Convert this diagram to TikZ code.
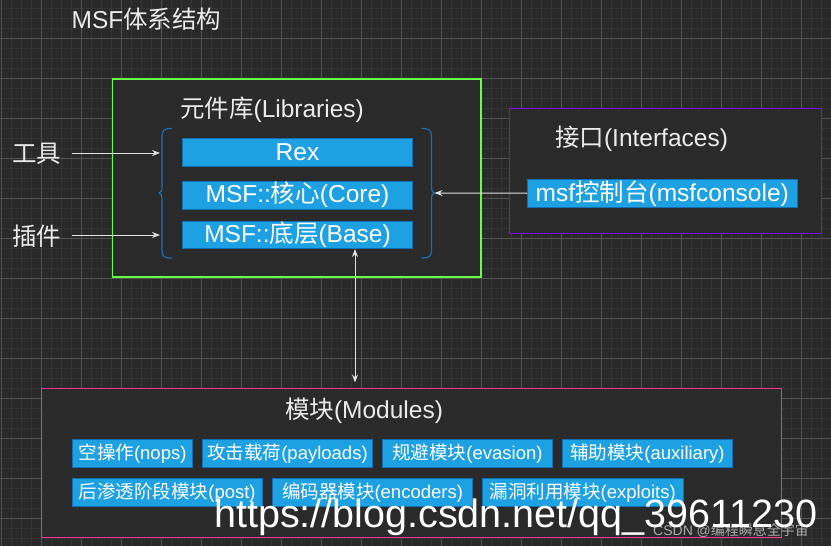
\documentclass[tikz,border=0pt]{standalone}
\usepackage{fontspec}
\setmainfont{Liberation Sans}
\newfontfamily\cjk{Noto Sans CJK SC}
\usetikzlibrary{arrows.meta}
\definecolor{bgc}{RGB}{41,41,41}
\definecolor{boxbg}{RGB}{42,42,42}
\definecolor{minorc}{RGB}{52,52,52}
\definecolor{majorc}{RGB}{82,82,82}
\definecolor{cblue}{RGB}{29,161,226}
\definecolor{cbord}{RGB}{20,110,180}
\definecolor{cbrace}{RGB}{26,110,180}
\definecolor{cgreen}{RGB}{102,255,68}
\definecolor{cpurple}{RGB}{128,10,250}
\definecolor{cpink}{RGB}{245,50,140}
\definecolor{cgrey}{RGB}{225,225,225}
\definecolor{ctext}{RGB}{235,235,235}
\tikzset{
  fsz/.style={font=\fontsize{#1}{#1}\selectfont},
  container/.style={fill=boxbg, line width=1.3pt, inner sep=0},
  libbox/.style={fill=cblue, draw=cbord, line width=1pt, text=white, inner sep=0, fsz=24.5},
  modbox/.style={fill=cblue, draw=cbord, line width=1pt, text=white, inner sep=0, fsz=18.5, minimum height=28},
  lbl/.style={text=ctext, inner sep=0},
  arr/.style={-{Stealth[length=8pt,width=6pt]}, draw=cgrey, line width=1pt},
  dblarr/.style={{Stealth[length=8pt,width=6pt]}-{Stealth[length=8pt,width=6pt]}, draw=cgrey, line width=1pt},
  bracepath/.style={draw=cbrace, line width=1.2pt},
}
\begin{document}
\begin{tikzpicture}[x=1pt,y=-1pt]
\useasboundingbox (0,0) rectangle (831,546);
\fill[bgc] (0,0) rectangle (831,546);
% grid
\foreach \i in {1,11,...,831} \draw[minorc, line width=0.8pt] (\i,0) -- (\i,546);
\foreach \j in {8,18,...,546} \draw[minorc, line width=0.8pt] (0,\j) -- (831,\j);
\foreach \i in {1,41,...,831} \draw[majorc, line width=0.9pt] (\i,0) -- (\i,546);
\foreach \j in {38,78,...,546} \draw[majorc, line width=0.9pt] (0,\j) -- (831,\j);

% title
\node[lbl, fsz=24.5, anchor=west] (title) at (71.5,19) {MSF{\cjk 体系结构}};

% Libraries container
\node[container, draw=cgreen, minimum width=368.5, minimum height=198] (libs) at (296.75,178) {};
\node[lbl, fsz=24.5] (libtitle) at (272,110) {{\cjk 元件库}(Libraries)};
\node[libbox, minimum width=230, minimum height=27.5] (rex) at (297.5,152.25) {Rex};
\node[libbox, minimum width=230, minimum height=28] (core) at (297.5,195) {MSF::{\cjk 核心}(Core)};
\node[libbox, minimum width=230, minimum height=27.5] (base) at (297.5,234.75) {MSF::{\cjk 底层}(Base)};

% braces
\coordinate (lbtip) at (159,193);
\coordinate (rbtip) at (434.5,193);
\draw[bracepath] (172,128.5) .. controls (164,128.5) and (162,130) .. (162,137) -- (162,186)
   .. controls (162,191) and (161,193) .. (lbtip) .. controls (161,193) and (162,195) .. (162,200)
   -- (162,250) .. controls (162,256.5) and (164,258) .. (172,258);
\draw[bracepath] (421.5,128.5) .. controls (429.5,128.5) and (431.5,130) .. (431.5,137) -- (431.5,186)
   .. controls (431.5,191) and (432.5,193) .. (rbtip) .. controls (432.5,193) and (431.5,195) .. (431.5,200)
   -- (431.5,250) .. controls (431.5,256.5) and (429.5,258) .. (421.5,258);

% tools / plugins
\node[lbl, fsz=24.5] (tools) at (37,154) {\cjk 工具};
\node[lbl, fsz=24.5] (plugins) at (37,236) {\cjk 插件};
\coordinate (toolsend) at (160,153);
\coordinate (plugend) at (160,235);
\draw[arr] (72,153) -- (toolsend);
\draw[arr] (72,235) -- (plugend);

% Interfaces
\node[container, draw=cpurple, minimum width=312, minimum height=125] (ifaces) at (665.5,171) {};
\node[lbl, fsz=24.5] (iftitle) at (641.5,138.5) {{\cjk 接口}(Interfaces)};
\node[libbox, minimum width=269.5, minimum height=27.5] (console) at (662.25,193.25) {msf{\cjk 控制台}(msfconsole)};
\draw[arr] (console.west) -- (rbtip);

% Modules
\node[container, draw=cpink, minimum width=740, minimum height=149] (mods) at (411.5,463) {};
\node[lbl, fsz=24.5] (modtitle) at (364,410.5) {{\cjk 模块}(Modules)};
\draw[dblarr] (base.south -| 355,0) -- (355,382.5);

\node[modbox, minimum width=120.5] (nops) at (132.5,453.25) {{\cjk 空操作}(nops)};
\node[modbox, minimum width=170.5] (payloads) at (287.5,453.25) {{\cjk 攻击载荷}(payloads)};
\node[modbox, minimum width=170.5] (evasion) at (467.5,453.25) {{\cjk 规避模块}(evasion)};
\node[modbox, minimum width=170.5] (aux) at (647.5,453.25) {{\cjk 辅助模块}(auxiliary)};
\node[modbox, minimum width=190] (post) at (167.25,492.25) {{\cjk 后渗透阶段模块}(post)};
\node[modbox, minimum width=200.5] (encoders) at (372.5,492.25) {{\cjk 编码器模块}(encoders)};
\node[modbox, minimum width=201] (exploits) at (582.75,492.25) {{\cjk 漏洞利用模块}(exploits)};

% watermarks
\node[text=white, inner sep=0, anchor=base west, fsz=39.5] (wm) at (214,527.5) {https://blog.csdn.net/qq\_39611230};
\node[text=white, opacity=0.6, inner sep=0, anchor=base west, fsz=14] (wm2) at (653,535) {CSDN @{\cjk 编程瞬息全宇宙}};
\end{tikzpicture}
\end{document}
